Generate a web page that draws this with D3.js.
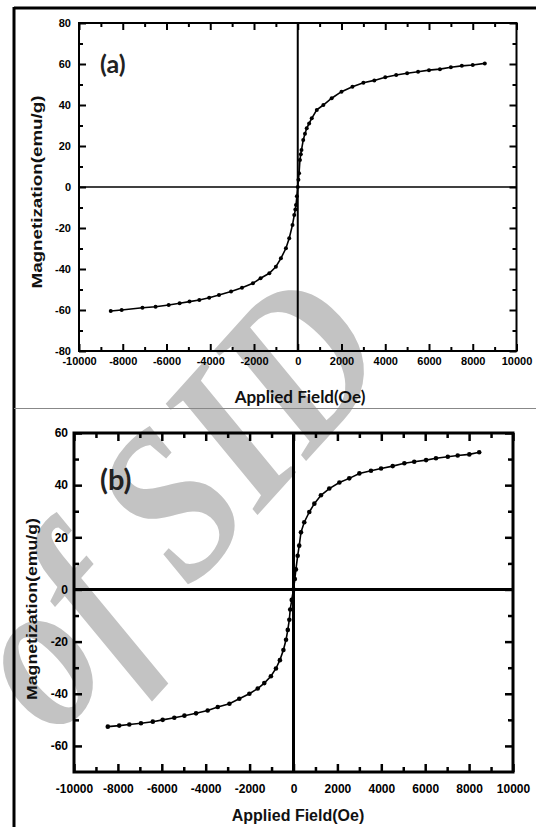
<!DOCTYPE html>
<meta charset="utf-8">
<style>
  body { margin: 0; background: #fff; }
  svg { display: block; }
</style>
<body>
<script src="https://cdn.jsdelivr.net/npm/d3@7"></script>
<script>

// sample (a): applied field (Oe) and magnetization (emu/g)
var fieldA = [-8550,-8050,-7100,-6500,-5900,-5400,-4950,-4500,-4050,-3600,-3050,-2550,-2050,-1700,-1300,-1000,-770,-540,-390,-240,-160,-110,-80,-40,0,30,60,100,140,170,250,330,410,520,640,870,1170,1550,2000,2500,3000,3500,4000,4500,5000,5500,6000,6500,7000,7500,8000,8550]
var magA = [-60.5,-60,-58.9,-58.4,-57.6,-56.7,-55.9,-55.1,-54,-52.7,-51,-49.1,-47,-44.5,-42.1,-38.9,-34.8,-29.9,-25,-18.5,-13.7,-11,-8.8,-4.5,0,3.5,6.7,13.2,16,18,22.9,26,28.6,31,33.5,37.6,40,43.3,46.5,48.9,50.9,52,53.5,54.6,55.5,56.2,57,57.5,58.4,59.1,59.5,60.3]

// sample (b)
var fieldB = [-8460,-7940,-7480,-6950,-6410,-5960,-5430,-4970,-4440,-3910,-3450,-2920,-2470,-2010,-1630,-1330,-1030,-800,-620,-460,-340,-260,-190,-150,-80,0,60,110,190,260,340,490,720,950,1250,1630,2090,2540,3000,3530,3990,4520,5050,5500,6040,6490,7030,7480,8010,8460]
var magB = [-52.6,-52.2,-51.8,-51.3,-50.7,-50,-49.2,-48.4,-47.5,-46.4,-45.1,-43.8,-41.9,-40,-38,-35.9,-33.3,-30.3,-27.1,-23.2,-19.3,-15.5,-11.6,-7.7,-4,0,4,7.7,12.9,16.8,21.9,25.8,29.7,32.9,36.1,38.7,41,42.6,44.5,45.5,46.4,47.3,48.4,49,49.6,50.3,50.9,51.4,51.8,52.6]

// tick values
var xMajor = [-10000,-8000,-6000,-4000,-2000,0,2000,4000,6000,8000,10000]
var xMinor = [-9000,-7000,-5000,-3000,-1000,1000,3000,5000,7000,9000]
var yMajorA = [-80,-60,-40,-20,0,20,40,60,80]
var yMinorA = [-70,-50,-30,-10,10,30,50,70]
var yMajorB = [-60,-40,-20,0,20,40,60]
var yMinorB = [-50,-30,-10,10,30,50]

var width = 536, height = 827

var svg = d3.select("body").append("svg")
  .attr("width", width)
  .attr("height", height)

// watermark behind everything
svg.append("text")
  .attr("transform", "translate(226,550) rotate(-48) scale(0.85,1)")
  .attr("text-anchor", "middle")
  .style("font-family", "'Liberation Serif', serif")
  .style("font-weight", "bold")
  .style("font-style", "italic")
  .style("font-size", "218px")
  .attr("fill", "#c3c3c3")
  .text("of SID")

// outer frame + separator
svg.append("line").attr("x1", 14).attr("x2", width).attr("y1", 8).attr("y2", 8)
  .attr("stroke", "#000").attr("stroke-width", 3)
svg.append("line").attr("x1", 14).attr("x2", 14).attr("y1", 7).attr("y2", height)
  .attr("stroke", "#000").attr("stroke-width", 3)
svg.append("line").attr("x1", 14).attr("x2", width).attr("y1", 408.5).attr("y2", 408.5)
  .attr("stroke", "#888").attr("stroke-width", 1)

function panel(p) {
  var x = d3.scaleLinear().domain([-10000, 10000]).range([p.left, p.right])
  var y = d3.scaleLinear().domain(p.yDomain).range([p.bottom, p.top])
  var g = svg.append("g")

  var fmt = function(d) { return String(d) }

  // major + minor ticks on all four sides, pointing inward
  function ticks(axisFn, scale, vals, size, shift, labels, pad) {
    var a = axisFn(scale).tickValues(vals).tickSizeInner(-size).tickSizeOuter(0)
      .tickPadding(pad || 0).tickFormat(labels ? fmt : "")
    var gg = g.append("g").attr("transform", shift).call(a)
    gg.select(".domain").remove()
    gg.selectAll("line").attr("stroke", "#000").attr("stroke-width", p.tickW)
    gg.selectAll("text").attr("fill", "#000")
      .style("font-family", "'Liberation Sans', Arial, sans-serif")
      .style("font-weight", "bold")
      .style("font-size", p.tickFont + "px")
    return gg
  }
  ticks(d3.axisBottom, x, xMajor, p.major, "translate(0," + p.bottom + ")", true, p.xPad)
  ticks(d3.axisBottom, x, xMinor, p.minor, "translate(0," + p.bottom + ")")
  ticks(d3.axisTop, x, xMajor, p.major, "translate(0," + p.top + ")")
  ticks(d3.axisTop, x, xMinor, p.minor, "translate(0," + p.top + ")")
  ticks(d3.axisLeft, y, p.yMajor, p.major, "translate(" + p.left + ",0)", true, p.yPad)
  ticks(d3.axisLeft, y, p.yMinor, p.minor, "translate(" + p.left + ",0)")
  ticks(d3.axisRight, y, p.yMajor, p.major, "translate(" + p.right + ",0)")
  ticks(d3.axisRight, y, p.yMinor, p.minor, "translate(" + p.right + ",0)")

  // zero lines
  g.append("line").attr("x1", p.left).attr("x2", p.right).attr("y1", y(0)).attr("y2", y(0))
    .attr("stroke", "#000").attr("stroke-width", p.zeroH)
  g.append("line").attr("x1", x(0)).attr("x2", x(0)).attr("y1", p.top).attr("y2", p.bottom)
    .attr("stroke", "#000").attr("stroke-width", p.zeroV)

  // frame
  g.append("rect").attr("x", p.left).attr("y", p.top)
    .attr("width", p.right - p.left).attr("height", p.bottom - p.top)
    .attr("fill", "none").attr("stroke", "#000").attr("stroke-width", p.frameW)

  // curve
  var pts = p.fx.map(function(d, i) { return [d, p.my[i]] })
  g.append("path").datum(pts)
    .attr("d", d3.line().x(function(d) { return x(d[0]) }).y(function(d) { return y(d[1]) }))
    .attr("fill", "none").attr("stroke", "#000").attr("stroke-width", 1.6)
  g.selectAll("circle.pt").data(pts).enter().append("circle")
    .attr("class", "pt")
    .attr("cx", function(d) { return x(d[0]) })
    .attr("cy", function(d) { return y(d[1]) })
    .attr("r", p.r).attr("fill", "#000")

  // titles
  g.append("text")
    .attr("x", p.xt[0]).attr("y", p.xt[1]).attr("dy", "0.35em")
    .attr("text-anchor", "middle")
    .style("font-family", p.xtFont).style("font-weight", "bold")
    .style("font-size", p.xtSize + "px").attr("fill", "#111")
    .text("Applied Field(Oe)")
  g.append("text")
    .attr("transform", "translate(" + p.yt[0] + "," + p.yt[1] + ") rotate(-90)")
    .attr("dy", "0.35em").attr("text-anchor", "middle")
    .attr("textLength", p.ytLen).attr("lengthAdjust", "spacingAndGlyphs")
    .style("font-family", "'Liberation Sans', Arial, sans-serif").style("font-weight", "bold")
    .style("font-size", p.ytSize + "px").attr("fill", "#111")
    .text("Magnetization(emu/g)")
  g.append("text")
    .attr("x", p.tag[0]).attr("y", p.tag[1]).attr("dy", "0.35em")
    .style("font-family", "Lato, 'Open Sans', sans-serif").style("font-weight", "bold")
    .style("font-size", p.tagSize + "px").attr("fill", "#222")
    .text(p.label)
}

panel({
  fx: fieldA, my: magA, yDomain: [-80, 80], yMajor: yMajorA, yMinor: yMinorA,
  left: 79, right: 516.5, top: 23, bottom: 351,
  major: 7, minor: 4, tickW: 2, frameW: 2, zeroH: 1.5, zeroV: 2, r: 2,
  tickFont: 11, xPad: 6, yPad: 8,
  xt: [300, 397], xtFont: "Lato, 'Open Sans', sans-serif", xtSize: 17,
  yt: [37, 192], ytLen: 193, ytSize: 15,
  tag: [100, 64], tagSize: 25, label: "(a)"
})

panel({
  fx: fieldB, my: magB, yDomain: [-70, 60], yMajor: yMajorB, yMinor: yMinorB,
  left: 74, right: 513, top: 433, bottom: 772,
  major: 8, minor: 5, tickW: 2.5, frameW: 3, zeroH: 3, zeroV: 3, r: 2.3,
  tickFont: 12, xPad: 12, yPad: 6,
  xt: [298, 815], xtFont: "'Liberation Sans', Arial, sans-serif", xtSize: 16,
  yt: [32, 609], ytLen: 182, ytSize: 14,
  tag: [100, 480], tagSize: 29, label: "(b)"
})

</script>
